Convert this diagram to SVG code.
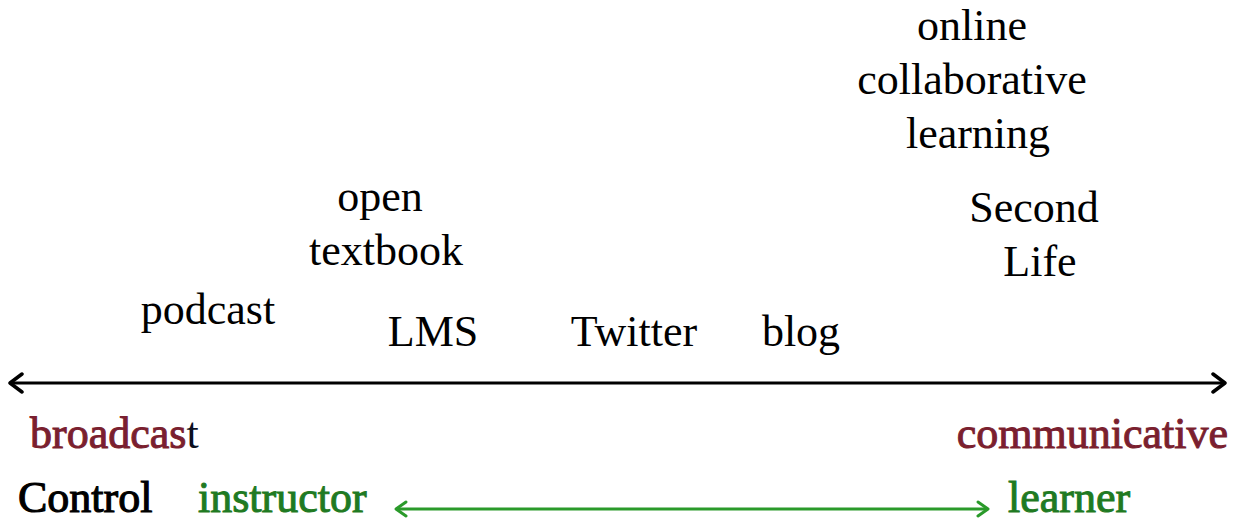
<svg xmlns="http://www.w3.org/2000/svg" width="1245" height="521" viewBox="0 0 1245 521">
<defs>
<style>
text{font-family:"Liberation Serif","Times New Roman",serif;font-size:44px;fill:#000;text-anchor:middle}
.red{fill:#7a1f2f;stroke:#7a1f2f;stroke-width:1}
.blk{fill:#0a0f1e}
.grn{fill:#1f7a22;stroke:#1f7a22;stroke-width:1}
.ctl{stroke:#000;stroke-width:1.1}
.start{text-anchor:start}
.end{text-anchor:end}
</style>
<marker id="ab" viewBox="0 0 16 22" refX="14" refY="11" markerWidth="16" markerHeight="22" markerUnits="userSpaceOnUse" orient="auto-start-reverse">
<path d="M2,2 L14,11 L2,20" fill="none" stroke="#000" stroke-width="3.5" stroke-linecap="round" stroke-linejoin="round"/>
</marker>
<marker id="ag" viewBox="0 0 14 18" refX="12" refY="9" markerWidth="14" markerHeight="18" markerUnits="userSpaceOnUse" orient="auto-start-reverse">
<path d="M2,2 L12,9 L2,16" fill="none" stroke="#2a9a2a" stroke-width="3" stroke-linecap="round" stroke-linejoin="round"/>
</marker>
</defs>
<rect width="1245" height="521" fill="#fff"/>
<g id="connectors">
<line x1="10" y1="383" x2="1225" y2="383" stroke="#000" stroke-width="3" marker-start="url(#ab)" marker-end="url(#ab)"/>
<line x1="396" y1="509" x2="988" y2="509" stroke="#2a9a2a" stroke-width="2.8" marker-start="url(#ag)" marker-end="url(#ag)"/>
</g>
<g id="online"><text x="972" y="40">online</text><text x="972" y="94">collaborative</text><text x="978" y="148">learning</text></g>
<g id="secondlife"><text x="1034" y="222">Second</text><text x="1040" y="276">Life</text></g>
<g id="opentextbook"><text x="380" y="211">open</text><text x="386" y="265">textbook</text></g>
<g id="podcast"><text x="208" y="324">podcast</text></g>
<g id="lms"><text x="433" y="346">LMS</text></g>
<g id="twitter"><text x="634" y="346">Twitter</text></g>
<g id="blog"><text x="801" y="346">blog</text></g>
<g id="broadcast"><text x="30" y="448" class="start"><tspan class="red">broadcas</tspan><tspan class="blk">t</tspan></text></g>
<g id="communicative"><text x="1228" y="448" class="end red">communicative</text></g>
<g id="control"><text x="18" y="512" class="start ctl">Control</text></g>
<g id="instructor"><text x="198" y="512" class="start grn">instructor</text></g>
<g id="learner"><text x="1008" y="512" class="start grn">learner</text></g>
</svg>
